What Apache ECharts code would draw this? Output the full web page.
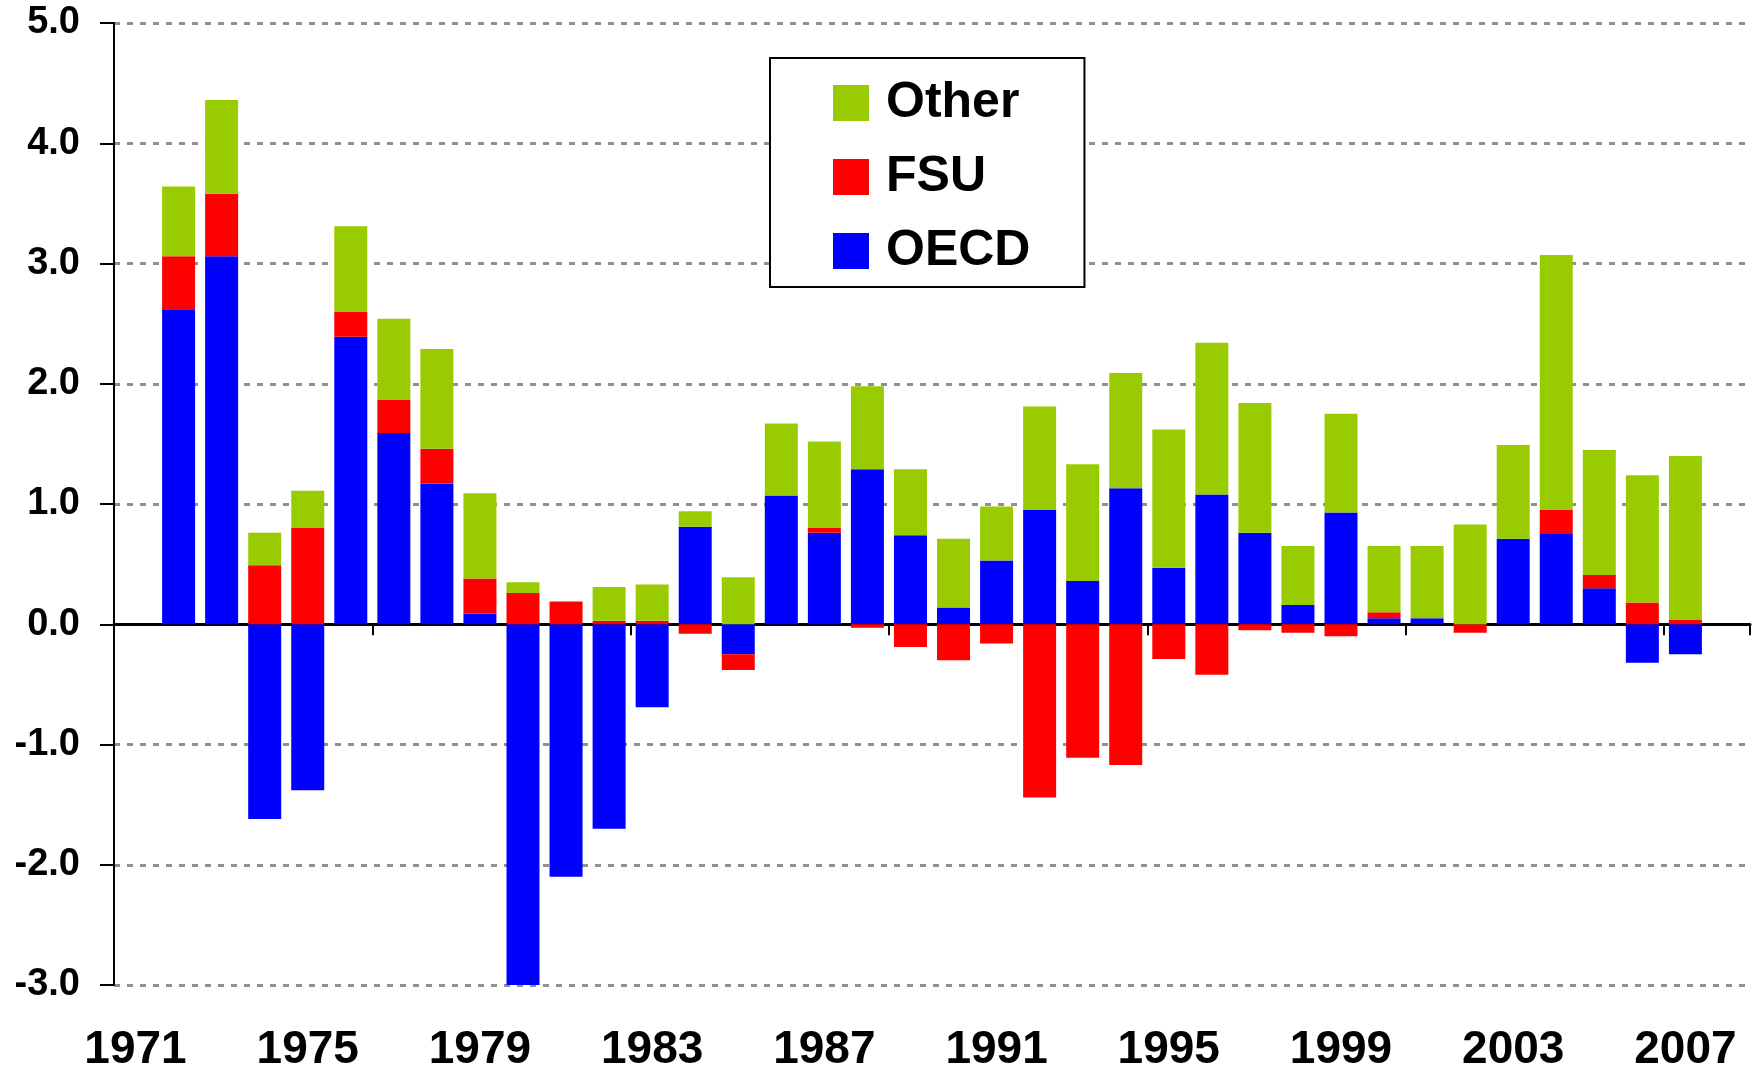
<!DOCTYPE html>
<html>
<head>
<meta charset="utf-8">
<title>Growth by region</title>
<script src="https://cdn.jsdelivr.net/npm/echarts@6/dist/echarts.min.js"></script>
<style>
  html, body { margin: 0; padding: 0; background: #fff; }
  #chart { width: 1762px; height: 1074px; }
</style>
</head>
<body>
<div id="chart"></div>
<script>
// categories: 1971 and 2008 have no bar
var years = ['1971','1972','1973','1974','1975','1976','1977','1978','1979','1980',
             '1981','1982','1983','1984','1985','1986','1987','1988','1989','1990',
             '1991','1992','1993','1994','1995','1996','1997','1998','1999','2000',
             '2001','2002','2003','2004','2005','2006','2007','2008'];

var oecd = [null, 2.62, 3.06, -1.62, -1.38, 2.39, 1.59, 1.17, 0.09, -3.0,
            -2.10, -1.70, -0.69, 0.81, -0.25, 1.07, 0.76, 1.29, 0.74, 0.14,
            0.53, 0.95, 0.36, 1.13, 0.47, 1.08, 0.76, 0.16, 0.93, 0.05,
            0.05, 0.0, 0.71, 0.75, 0.30, -0.32, -0.25, null];

var fsu = [null, 0.44, 0.52, 0.49, 0.80, 0.21, 0.28, 0.29, 0.29, 0.26,
           0.19, 0.03, 0.03, -0.08, -0.13, 0.0, 0.04, -0.03, -0.19, -0.30,
           -0.16, -1.44, -1.11, -1.17, -0.29, -0.42, -0.05, -0.07, -0.10, 0.05,
           0.0, -0.07, 0.0, 0.20, 0.11, 0.18, 0.04, null];

var other = [null, 0.58, 0.78, 0.27, 0.31, 0.71, 0.67, 0.83, 0.71, 0.09,
             0, 0.28, 0.30, 0.13, 0.39, 0.60, 0.72, 0.69, 0.55, 0.57,
             0.45, 0.86, 0.97, 0.96, 1.15, 1.26, 1.08, 0.49, 0.82, 0.55,
             0.60, 0.83, 0.78, 2.12, 1.04, 1.06, 1.36, null];

var font = 'Liberation Sans, Arial, sans-serif';

var option = {
    animation: false,
    backgroundColor: '#fff',
    grid: { left: 114, right: 12, top: 23, bottom: 89 },
    legend: {
        data: ['Other', 'FSU', 'OECD'],
        orient: 'vertical',
        left: 770,
        top: 58,
        padding: [20, 54, 11, 63],
        icon: 'rect',
        itemWidth: 36,
        itemHeight: 36,
        itemGap: 24,
        backgroundColor: '#fff',
        borderColor: '#000',
        borderWidth: 2,
        textStyle: {
            fontFamily: font,
            fontWeight: 'bold',
            fontSize: 50,
            lineHeight: 50,
            color: '#000',
            padding: [0, 0, 0, 12]
        }
    },
    xAxis: [
        {   // axis line on zero with ticks
            type: 'category',
            data: years,
            axisLine: { onZero: true, lineStyle: { color: '#000', width: 3 } },
            axisTick: { show: true, interval: 5, length: 11, lineStyle: { color: '#000', width: 2 } },
            axisLabel: { show: false },
            splitLine: { show: false }
        },
        {   // labels at the bottom
            type: 'category',
            data: years,
            position: 'bottom',
            axisLine: { show: false, onZero: false },
            axisTick: { show: false },
            axisLabel: {
                interval: 3,
                margin: 42,
                fontFamily: font,
                fontWeight: 'bold',
                fontSize: 46,
                color: '#000'
            }
        }
    ],
    yAxis: {
        type: 'value',
        min: -3,
        max: 5,
        interval: 1,
        axisLine: { show: true, lineStyle: { color: '#000', width: 2 } },
        axisTick: { show: true, length: 14, lineStyle: { color: '#000', width: 2 } },
        axisLabel: {
            margin: 34,
            fontFamily: font,
            fontWeight: 'bold',
            fontSize: 38,
            color: '#000',
            formatter: function (v) { return v.toFixed(1); }
        },
        splitLine: {
            lineStyle: { color: '#909090', width: 3, type: [6, 7] }
        }
    },
    series: [
        { name: 'OECD', type: 'bar', stack: 'total', barWidth: 33, itemStyle: { color: '#0000FF' }, data: oecd },
        { name: 'FSU', type: 'bar', stack: 'total', barWidth: 33, itemStyle: { color: '#FF0000' }, data: fsu },
        { name: 'Other', type: 'bar', stack: 'total', barWidth: 33, itemStyle: { color: '#99CC00' }, data: other }
    ]
};

echarts.init(document.getElementById('chart')).setOption(option);
</script>
</body>
</html>
